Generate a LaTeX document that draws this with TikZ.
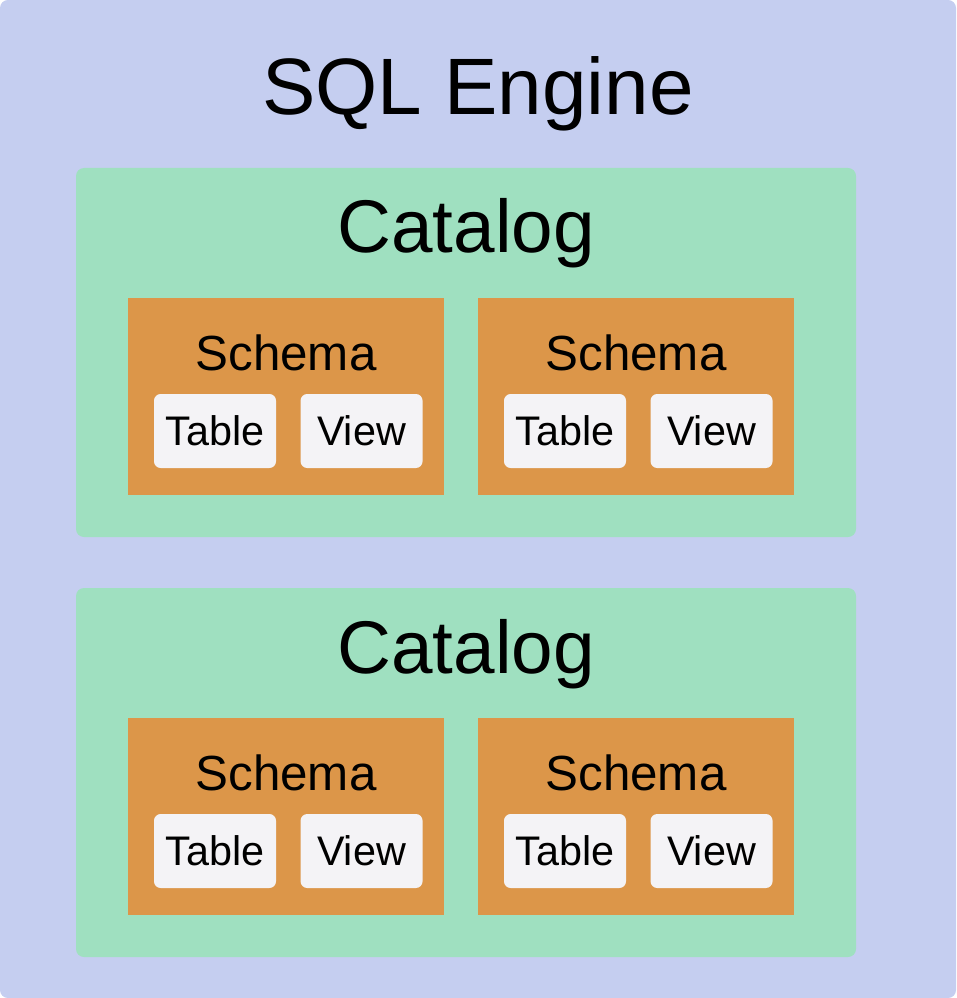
\documentclass[tikz,border=0pt]{standalone}
\usepackage{fontspec}
\setmainfont{Liberation Sans}
\usetikzlibrary{positioning}
\definecolor{engineblue}{HTML}{C5CEF0}
\definecolor{catgreen}{HTML}{9FE0C0}
\definecolor{schemaorange}{HTML}{DC9649}
\definecolor{itemwhite}{HTML}{F4F3F6}
\tikzset{
  engine/.style={fill=engineblue, rounded corners=6pt, minimum width=717pt, minimum height=748.5pt, inner sep=0pt},
  catalog/.style={fill=catgreen, rounded corners=6pt, minimum width=585pt, minimum height=276.75pt, inner sep=0pt},
  schema/.style={fill=schemaorange, minimum width=237pt, minimum height=147.75pt, inner sep=0pt},
  item/.style={fill=itemwhite, rounded corners=5pt, minimum width=91.5pt, minimum height=55.5pt, inner sep=0pt, font=\fontsize{31}{31}\selectfont},
  title/.style={anchor=base, inner sep=0pt, font=\fontsize{60}{60}\selectfont},
  catname/.style={anchor=base, inner sep=0pt, font=\fontsize{56}{56}\selectfont},
  schemaname/.style={anchor=base, inner sep=0pt, font=\fontsize{37}{37}\selectfont}
}

\begin{document}
\begin{tikzpicture}[x=0.75pt, y=-0.75pt]
    \useasboundingbox (0,0) rectangle (956,998);
    \node[engine] (eng) at (478,499) {};
    \node[title] (engt) at (478,115) {SQL Engine};
    % first catalog
    \node[catalog] (c1) at (466,352.5) {};
    \node[catname] (c1t) at (466,253) {Catalog};
    \node[schema] (s11) at (286,396.5) {};
    \node[schema] (s12) at (636,396.5) {};
    \node[schemaname] (s11t) at (286,370) {Schema};
    \node[schemaname] (s12t) at (636,370) {Schema};
    \node[item] (t11) at (215,431) {Table};
    \node[item, right=18pt of t11] (v11) {View};
    \node[item] (t12) at (565,431) {Table};
    \node[item, right=18pt of t12] (v12) {View};
    % second catalog
    \node[catalog] (c2) at (466,772.5) {};
    \node[catname] (c2t) at (466,673) {Catalog};
    \node[schema] (s21) at (286,816.5) {};
    \node[schema] (s22) at (636,816.5) {};
    \node[schemaname] (s21t) at (286,790) {Schema};
    \node[schemaname] (s22t) at (636,790) {Schema};
    \node[item] (t21) at (215,851) {Table};
    \node[item, right=18pt of t21] (v21) {View};
    \node[item] (t22) at (565,851) {Table};
    \node[item, right=18pt of t22] (v22) {View};
\end{tikzpicture}
\end{document}
